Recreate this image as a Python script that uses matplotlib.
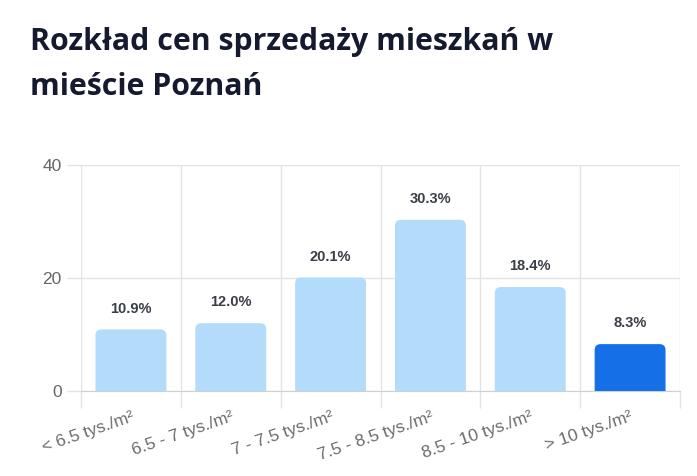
import matplotlib.pyplot as plt
from matplotlib.patches import PathPatch
from matplotlib.path import Path
from matplotlib.transforms import ScaledTranslation

categories = ["< 6.5 tys./m²", "6.5 - 7 tys./m²", "7 - 7.5 tys./m²",
              "7.5 - 8.5 tys./m²", "8.5 - 10 tys./m²", "> 10 tys./m²"]
shares = [10.9, 12.0, 20.1, 30.3, 18.4, 8.3]
highlight = [False, False, False, False, False, True]

light = "#b3dcfb"
dark = "#1570e8"
grid_col = "#e3e3e3"

fig = plt.figure(figsize=(6.97, 4.76), dpi=100)
ax = fig.add_axes([81 / 697, 85 / 476, 599 / 697, 226 / 476])

bar_w = 0.71
# corner radius ~6px, converted to data units on each axis
rx = 6 / 100
ry = 6 * 40 / 226


def top_rounded_bar(x0, w, h):
    verts = [(x0, 0), (x0, h - ry), (x0, h), (x0 + rx, h),
             (x0 + w - rx, h), (x0 + w, h), (x0 + w, h - ry),
             (x0 + w, 0), (x0, 0)]
    codes = [Path.MOVETO, Path.LINETO, Path.CURVE3, Path.CURVE3,
             Path.LINETO, Path.CURVE3, Path.CURVE3, Path.LINETO, Path.CLOSEPOLY]
    return Path(verts, codes)


for i, (v, hl) in enumerate(zip(shares, highlight)):
    col = dark if hl else light
    ax.add_patch(PathPatch(top_rounded_bar(i - bar_w / 2, bar_w, v),
                           fc=col, ec="none", zorder=3))
    ax.annotate(f"{v:.1f}%", (i, v), xytext=(0, 15), textcoords="offset points",
                ha="center", va="center", fontsize=10.5, fontweight="bold",
                color="#3a3f47", family="Liberation Sans")

ax.set_xlim(-0.5, 5.5)
ax.set_ylim(0, 40)
ax.set_yticks([0, 20, 40])
ax.set_xticks(range(len(categories)))
ax.set_xticklabels(categories, rotation=19, ha="right", va="top",
                   rotation_mode="anchor", family="Liberation Sans",
                   fontsize=12.5, color="#6b6b6b")
shift = ScaledTranslation(3 / 100, 0, fig.dpi_scale_trans)
for lab in ax.get_xticklabels():
    lab.set_transform(lab.get_transform() + shift)
ax.set_xticks([i - 0.5 for i in range(len(categories) + 1)], minor=True)

ax.tick_params(axis="x", which="major", length=0, pad=13)
ax.tick_params(axis="x", which="minor", length=12, color=grid_col, width=1)
ax.tick_params(axis="y", length=10, color=grid_col, width=1, pad=4,
               labelsize=12.5, labelcolor="#666666")
for lab in ax.get_yticklabels():
    lab.set_family("Liberation Sans")

ax.grid(axis="x", which="minor", color=grid_col, lw=1, zorder=0)
ax.grid(axis="y", which="major", color=grid_col, lw=1, zorder=0)
ax.set_axisbelow(True)
for s in ["top", "right", "left"]:
    ax.spines[s].set_visible(False)
ax.spines["bottom"].set_color("#d0d0d0")

title_kw = dict(fontsize=21.8, fontweight="bold", color="#151a2e",
                family="Open Sans", va="baseline", ha="left")
fig.text(30 / 697, 1 - 50 / 476, "Rozkład cen sprzedaży mieszkań w", **title_kw)
fig.text(30 / 697, 1 - 95 / 476, "mieście Poznań", **title_kw)

fig.savefig("out.png", dpi=100)
